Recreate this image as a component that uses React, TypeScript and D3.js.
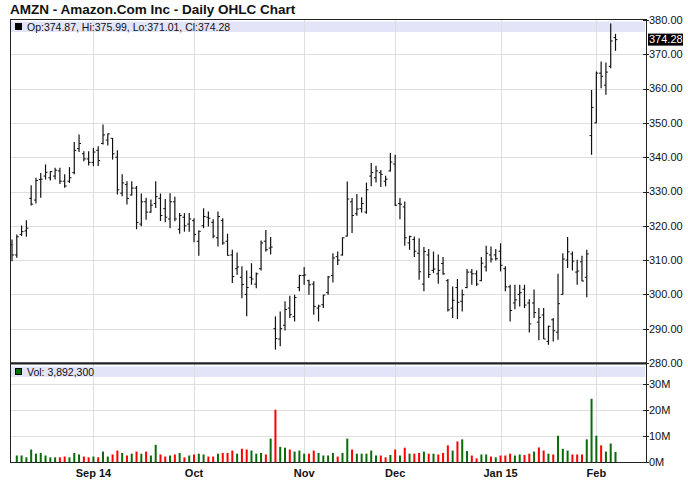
import React from 'react';
import * as d3 from 'd3';

const dates: string[] = [
  '2014-08-07','2014-08-08','2014-08-11','2014-08-12','2014-08-13','2014-08-14','2014-08-15','2014-08-18','2014-08-19','2014-08-20','2014-08-21','2014-08-22','2014-08-25','2014-08-26','2014-08-27','2014-08-28','2014-08-29',
  '2014-09-02','2014-09-03','2014-09-04','2014-09-05','2014-09-08','2014-09-09','2014-09-10','2014-09-11','2014-09-12','2014-09-15','2014-09-16','2014-09-17','2014-09-18','2014-09-19','2014-09-22','2014-09-23','2014-09-24','2014-09-25','2014-09-26','2014-09-29','2014-09-30',
  '2014-10-01','2014-10-02','2014-10-03','2014-10-06','2014-10-07','2014-10-08','2014-10-09','2014-10-10','2014-10-13','2014-10-14','2014-10-15','2014-10-16','2014-10-17','2014-10-20','2014-10-21','2014-10-22','2014-10-23','2014-10-24','2014-10-27','2014-10-28','2014-10-29','2014-10-30','2014-10-31',
  '2014-11-03','2014-11-04','2014-11-05','2014-11-06','2014-11-07','2014-11-10','2014-11-11','2014-11-12','2014-11-13','2014-11-14','2014-11-17','2014-11-18','2014-11-19','2014-11-20','2014-11-21','2014-11-24','2014-11-25','2014-11-26','2014-11-28',
  '2014-12-01','2014-12-02','2014-12-03','2014-12-04','2014-12-05','2014-12-08','2014-12-09','2014-12-10','2014-12-11','2014-12-12','2014-12-15','2014-12-16','2014-12-17','2014-12-18','2014-12-19','2014-12-22','2014-12-23','2014-12-24','2014-12-26','2014-12-29','2014-12-30','2014-12-31',
  '2015-01-02','2015-01-05','2015-01-06','2015-01-07','2015-01-08','2015-01-09','2015-01-12','2015-01-13','2015-01-14','2015-01-15','2015-01-16','2015-01-20','2015-01-21','2015-01-22','2015-01-23','2015-01-26','2015-01-27','2015-01-28','2015-01-29','2015-01-30',
  '2015-02-02','2015-02-03','2015-02-04','2015-02-05','2015-02-06',
];

const opens: number[] = [
  314.5,311.5,317.5,318.5,328.0,327.5,333.5,334.5,334.0,334.5,336.0,333.0,333.0,335.5,342.5,341.0,339.5,
  338.5,342.0,344.0,345.0,345.5,340.0,329.5,332.0,329.0,331.0,320.5,327.0,324.0,326.5,328.0,325.0,322.0,327.0,319.0,322.5,320.5,
  321.5,315.5,320.0,322.5,321.0,316.5,321.5,315.5,311.5,307.5,305.0,300.0,305.0,303.0,307.5,315.5,313.5,290.0,287.0,291.0,296.0,293.5,302.0,
  305.5,304.0,303.0,296.0,297.0,300.5,305.5,311.0,311.5,317.0,327.0,323.5,325.0,324.0,334.5,334.0,335.5,333.0,336.0,
  338.0,326.5,325.5,315.0,316.0,312.0,303.0,311.5,307.0,306.0,309.0,304.0,296.0,302.0,298.0,302.0,306.5,306.0,304.0,308.0,311.5,311.5,
  312.6,307.5,302.2,297.5,300.0,301.5,297.5,297.5,291.9,294.0,286.3,292.6,289.0,300.0,310.0,311.8,306.5,309.5,305.0,346.3,
  350.0,364.5,361.0,366.5,374.87,
];

const highs: number[] = [
  316.0,317.5,320.1,321.6,331.8,334.0,335.4,337.9,335.9,336.9,336.9,335.0,337.1,344.4,346.6,341.7,341.7,
  342.7,343.2,349.5,346.9,345.6,342.0,335.0,333.0,333.0,331.6,329.4,328.2,327.7,333.0,329.4,327.8,329.5,328.5,323.7,323.7,323.7,
  322.2,318.6,325.1,324.2,321.9,324.2,322.2,317.7,313.0,312.2,308.2,307.0,309.1,306.4,315.7,318.8,316.7,293.6,295.0,298.0,299.6,299.9,305.7,
  308.0,304.3,303.8,297.0,299.9,305.4,312.0,312.5,316.6,332.9,328.1,329.3,328.3,332.6,338.3,337.5,336.3,334.6,341.2,
  340.7,328.1,327.1,317.1,316.9,316.4,313.8,313.2,312.5,311.6,310.9,304.5,302.3,304.5,301.4,307.4,307.4,307.0,310.9,314.2,314.0,313.2,
  314.9,308.2,302.8,302.8,302.8,302.8,298.6,301.4,296.0,296.0,290.9,293.1,306.0,312.0,316.7,312.5,310.1,311.3,313.0,359.6,
  365.0,367.9,367.6,379.0,375.99,
];

const lows: number[] = [
  309.7,310.7,317.0,316.8,325.9,326.5,328.2,333.5,333.2,333.5,332.2,331.1,332.5,335.0,341.5,338.8,337.6,
  337.4,337.4,343.7,343.4,339.3,329.1,328.6,326.2,328.8,319.0,319.9,321.8,323.8,325.2,321.4,321.0,319.3,321.3,317.7,318.3,318.3,
  315.2,311.3,319.3,319.8,316.4,314.0,314.5,311.3,303.3,305.7,298.9,293.6,302.8,301.8,307.0,312.5,311.6,283.9,284.9,289.5,293.1,292.1,300.9,
  302.8,299.9,294.1,292.1,296.0,299.9,303.5,308.6,311.3,316.9,317.9,322.9,323.9,323.5,331.5,332.6,331.3,331.5,335.8,
  325.8,321.9,314.2,313.0,310.9,304.3,300.9,304.8,306.2,303.1,305.7,295.0,293.1,292.8,295.0,301.8,302.8,302.5,303.8,306.7,309.3,309.9,
  306.7,300.9,292.1,295.7,296.5,296.0,288.9,293.1,286.6,287.0,285.3,286.3,286.8,299.9,307.7,307.0,302.8,303.8,299.2,340.7,
  349.9,360.1,358.2,365.9,371.01,
];

const closes: number[] = [
  311.5,316.8,318.3,319.3,326.3,333.2,333.6,335.6,335.8,336.2,333.0,331.6,334.0,342.0,344.0,339.5,338.5,
  341.5,339.0,346.5,346.8,341.0,330.5,332.5,328.0,331.0,321.0,327.0,324.0,326.0,328.5,323.0,322.5,327.0,322.0,323.0,320.0,322.0,
  317.5,318.4,322.7,322.2,317.0,322.7,315.0,311.4,305.2,308.0,302.9,302.0,304.5,306.0,315.0,313.0,313.8,287.1,290.0,295.6,294.1,299.1,305.5,
  305.7,302.8,296.5,296.6,299.8,305.1,310.6,310.0,316.5,327.8,323.0,324.9,326.5,330.5,335.5,336.0,335.0,333.6,338.6,
  326.0,326.3,316.5,316.9,312.6,306.6,312.5,305.8,307.4,307.0,306.0,295.5,298.3,297.7,299.9,306.5,306.0,303.0,309.1,312.0,310.3,310.4,
  308.5,302.2,295.3,298.4,300.5,296.9,291.4,294.7,293.3,287.0,290.7,289.4,297.3,310.3,312.4,309.7,306.8,303.9,311.8,354.5,
  364.5,363.6,364.8,373.9,374.28,
];

const volumes: number[] = [
  0,2.5e6,2.5e6,1.8e6,4.8e6,3.2e6,3.5e6,2.5e6,1.8e6,1.8e6,1.8e6,2.1e6,1.8e6,3.5e6,2.9e6,2.1e6,1.8e6,
  2.1e6,1.8e6,4.0e6,2.1e6,2.9e6,4.4e6,3.5e6,2.5e6,3.2e6,4.0e6,3.2e6,4.0e6,2.5e6,6.6e6,2.9e6,2.1e6,2.5e6,2.9e6,3.5e6,1.8e6,2.5e6,
  2.9e6,3.2e6,2.9e6,2.1e6,2.1e6,3.2e6,3.5e6,3.5e6,4.4e6,3.2e6,5.1e6,4.8e6,4.4e6,3.2e6,3.5e6,2.9e6,9.0e6,20.1e6,5.8e6,5.5e6,4.8e6,4.0e6,4.4e6,
  3.2e6,3.2e6,4.4e6,3.5e6,2.5e6,2.5e6,3.5e6,2.1e6,3.5e6,9.0e6,4.8e6,3.2e6,3.2e6,3.2e6,4.4e6,2.5e6,2.5e6,1.8e6,2.7e6,
  4.8e6,2.5e6,5.5e6,3.2e6,3.2e6,3.5e6,4.0e6,3.2e6,3.2e6,2.9e6,3.5e6,6.4e6,4.4e6,7.9e6,8.7e6,4.2e6,2.5e6,1.4e6,2.9e6,2.9e6,2.1e6,1.8e6,
  2.5e6,2.5e6,3.2e6,2.5e6,2.9e6,2.7e6,3.2e6,4.0e6,5.6e6,4.4e6,3.2e6,2.9e6,10.1e6,5.1e6,4.4e6,2.9e6,2.9e6,2.9e6,8.7e6,24.3e6,
  10.1e6,6.4e6,4.0e6,7.1e6,3892300,
];

const priceTicks: number[] = [380, 370, 360, 350, 340, 330, 320, 310, 300, 290, 280];
const volumeTicks: number[] = [0, 10e6, 20e6, 30e6];
const volumeTickLabels: string[] = ['0M', '10M', '20M', '30M'];
const monthStarts: string[] = ['2014-09-02', '2014-10-01', '2014-11-03', '2014-12-01', '2015-01-02', '2015-02-02'];
const monthLabels: string[] = ['Sep 14', 'Oct', 'Nov', 'Dec', 'Jan 15', 'Feb'];

const FONT = '"Liberation Sans", Arial, Helvetica, sans-serif';

export default function App() {
  const W = 688, H = 503;
  const left = 10, right = 646;
  const mainTop = 20, mainBottom = 363;
  const volTop = 363, volBottom = 462;
  const n = dates.length;

  const x = d3.scaleLinear().domain([0, n - 1]).range([12, 615.5]);
  const y = d3.scaleLinear().domain([280, 380]).range([mainBottom, mainTop]);
  const yv = d3.scaleLinear().domain([0, 30e6]).range([volBottom, 384]);

  const last = n - 1;
  const fmt2 = d3.format('.2f');
  const fmtVol = d3.format(',');
  const green = '#0b6b0b';
  const red = '#ff0000';
  const gridColor = '#dedede';

  const monthIdx = monthStarts.map((d) => dates.indexOf(d));

  return (
    <svg width={W} height={H} style={{ position: 'absolute', left: 0, top: 0, background: '#fff' }} fontFamily={FONT}>
      <rect x={0} y={0} width={W} height={H} fill="#fff" />
      <text x={10} y={14} fontSize={13.5} fontWeight="bold" fill="#111">AMZN - Amazon.Com Inc - Daily OHLC Chart</text>

      {/* legend bands */}
      <rect x={left + 1} y={21.5} width={right - left - 2} height={10.5} fill="#e4e4f8" />
      <rect x={left + 1} y={366.5} width={right - left - 2} height={10.5} fill="#e4e4f8" />

      {/* horizontal grid main */}
      {priceTicks.filter((p) => p > 280 && p < 380).map((p) => (
        <line key={'g' + p} x1={left} x2={right} y1={Math.round(y(p)) + 0.5} y2={Math.round(y(p)) + 0.5} stroke={gridColor} strokeWidth={1} />
      ))}
      {/* horizontal grid volume */}
      {volumeTicks.filter((v) => v > 0).map((v) => (
        <line key={'gv' + v} x1={left} x2={right} y1={Math.round(yv(v)) + 0.5} y2={Math.round(yv(v)) + 0.5} stroke={gridColor} strokeWidth={1} />
      ))}
      {/* vertical month grid */}
      {monthIdx.map((i, k) => (
        <g key={'m' + k}>
          <line x1={Math.round(x(i)) + 0.5} x2={Math.round(x(i)) + 0.5} y1={mainTop} y2={mainBottom} stroke={gridColor} strokeWidth={1} />
          <line x1={Math.round(x(i)) + 0.5} x2={Math.round(x(i)) + 0.5} y1={volTop} y2={volBottom} stroke={gridColor} strokeWidth={1} />
          <text x={x(i)} y={477} fontSize={11} fontWeight="bold" textAnchor="middle" fill="#111">{monthLabels[k]}</text>
        </g>
      ))}

      {/* legend contents */}
      <rect x={15.5} y={23.5} width={6} height={6} fill="#000" stroke="#000" />
      <text x={27} y={30.5} fontSize={10.5} fill="#111">
        {`Op:${fmt2(opens[last])}, Hi:${fmt2(highs[last])}, Lo:${fmt2(lows[last])}, Cl:${fmt2(closes[last])}`}
      </text>
      <rect x={15.5} y={368.5} width={6} height={6} fill={green} stroke="#000" />
      <text x={27} y={375.5} fontSize={10.5} fill="#111">{`Vol: ${fmtVol(volumes[last])}`}</text>

      {/* OHLC bars */}
      {dates.map((d, i) => {
        const cx = x(i);
        return (
          <g key={'b' + d} stroke="#111" strokeWidth={1.2}>
            <line x1={cx} x2={cx} y1={y(highs[i])} y2={y(lows[i])} />
            <line x1={cx - 2} x2={cx} y1={y(opens[i])} y2={y(opens[i])} strokeWidth={1} />
            <line x1={cx} x2={cx + 2} y1={y(closes[i])} y2={y(closes[i])} strokeWidth={1} />
          </g>
        );
      })}

      {/* Volume bars */}
      {dates.map((d, i) => {
        const v = volumes[i];
        if (!(v > 0)) return null;
        const up = i === 0 ? closes[i] >= opens[i] : closes[i] >= closes[i - 1];
        return (
          <rect key={'v' + d} x={x(i) - 1} width={2} y={yv(v)} height={yv(0) - yv(v)} fill={up ? green : red} />
        );
      })}

      {/* panel borders */}
      <rect x={left + 0.5} y={mainTop - 0.5} width={right - left} height={mainBottom - mainTop + 0.5} fill="none" stroke="#222" strokeWidth={1} />
      <rect x={left + 0.5} y={volTop + 0.5} width={right - left} height={volBottom - volTop} fill="none" stroke="#222" strokeWidth={1} />
      <line x1={left} x2={right + 1} y1={mainBottom + 0.5} y2={mainBottom + 0.5} stroke="#222" strokeWidth={2} />

      {/* price axis */}
      {priceTicks.map((p) => (
        <g key={'t' + p}>
          <line x1={right - 3} x2={right + 3} y1={Math.round(y(p)) + 0.5} y2={Math.round(y(p)) + 0.5} stroke="#222" />
          <text x={649} y={y(p)} dy="0.35em" fontSize={11} fill="#111">{fmt2(p)}</text>
        </g>
      ))}
      {/* last close box */}
      <rect x={648} y={y(closes[last]) - 6} width={35} height={12} fill="#000" />
      <text x={649} y={y(closes[last])} dy="0.35em" fontSize={11} fill="#fff">{fmt2(closes[last])}</text>

      {/* volume axis */}
      {volumeTicks.map((v, k) => (
        <g key={'vt' + v}>
          <line x1={right - 3} x2={right + 3} y1={Math.round(yv(v)) + 0.5} y2={Math.round(yv(v)) + 0.5} stroke="#222" />
          <text x={649} y={yv(v)} dy="0.35em" fontSize={11} fill="#111">{volumeTickLabels[k]}</text>
        </g>
      ))}
    </svg>
  );
}
